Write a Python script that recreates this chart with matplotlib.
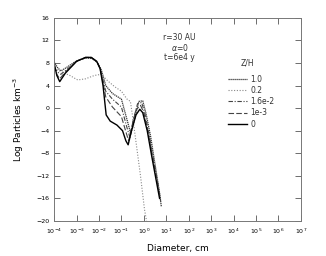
import matplotlib
matplotlib.use("Agg")
import matplotlib.pyplot as plt
import numpy as np

# log10(Diameter, cm) and Log particles km^-3 for each Z/H
x_0 = [-4.0, -3.88, -3.75, -3.5, -3.0, -2.6, -2.35, -2.1, -1.95, -1.82, -1.68, -1.5, -1.2, -0.95, -0.8, -0.7, -0.55, -0.35, -0.18, -0.05, 0.15, 0.35, 0.55, 0.7]
y_0 = [8.0, 5.8, 4.7, 6.2, 8.3, 9.0, 9.0, 8.3, 7.0, 4.0, -1.2, -2.3, -3.0, -4.0, -5.8, -6.5, -4.0, -1.2, -0.2, -0.8, -4.0, -8.5, -12.8, -16.0]

x_1e3 = [-4.0, -3.88, -3.75, -3.5, -3.0, -2.6, -2.35, -2.1, -1.95, -1.82, -1.7, -1.4, -1.0, -0.8, -0.68, -0.55, -0.35, -0.15, 0.0, 0.2, 0.4, 0.6, 0.72]
y_1e3 = [7.6, 6.0, 5.2, 6.4, 8.3, 9.0, 9.0, 8.3, 7.0, 4.5, 2.0, 0.2, -1.5, -4.2, -5.8, -3.5, -0.3, 0.5, -0.8, -4.5, -9.0, -13.0, -16.0]

x_16e2 = [-4.0, -3.85, -3.7, -3.45, -3.0, -2.6, -2.35, -2.1, -1.95, -1.82, -1.7, -1.4, -1.0, -0.75, -0.62, -0.48, -0.28, -0.1, 0.05, 0.25, 0.45, 0.65, 0.75]
y_16e2 = [7.2, 6.4, 6.0, 6.8, 8.3, 8.9, 9.0, 8.3, 7.0, 5.0, 3.0, 1.6, 0.2, -3.5, -5.2, -2.2, 0.8, 1.0, -1.0, -5.0, -9.5, -14.0, -16.5]

x_1 = [-4.0, -3.85, -3.7, -3.45, -3.0, -2.6, -2.3, -2.05, -1.9, -1.8, -1.7, -1.4, -1.0, -0.72, -0.58, -0.42, -0.22, -0.05, 0.1, 0.3, 0.5, 0.7, 0.78]
y_1 = [8.2, 7.2, 6.6, 7.2, 8.4, 8.9, 8.8, 8.0, 6.8, 5.5, 4.0, 2.6, 1.6, -2.5, -4.6, -2.0, 1.2, 1.3, -1.0, -5.0, -10.0, -15.0, -17.5]

x_02 = [-4.0, -3.7, -3.3, -2.95, -2.6, -2.2, -1.9, -1.6, -1.3, -1.0, -0.75, -0.6, -0.5, -0.35, -0.15, 0.03, 0.12]
y_02 = [7.0, 6.5, 5.8, 5.0, 5.2, 5.8, 6.0, 4.8, 3.8, 3.0, 1.6, 1.2, -1.5, -6.0, -12.0, -18.0, -20.0]

legend_labels = ["1.0", "0.2", "1.6e-2", "1e-3", "0"]
x_ticks = list(range(-4, 8))
y_ticks = list(range(-20, 17, 4))

plt.rcParams['font.family'] = ['DejaVu Sans']

fig = plt.figure(figsize=(3.26, 2.56), dpi=100)
ax = fig.add_axes([0.166, 0.137, 0.757, 0.793])

def D(lx):
    return 10.0 ** np.array(lx)

ax.plot(D(x_1), y_1, color="#333333", lw=0.9, ls=(0, (1, 0.6)), label=legend_labels[0])
ax.plot(D(x_02), y_02, color="#888888", lw=0.8, ls=(0, (1, 1.5)), label=legend_labels[1])
ax.plot(D(x_16e2), y_16e2, color="#444444", lw=0.8, ls=(0, (4, 1.5, 1, 1.5)), label=legend_labels[2])
ax.plot(D(x_1e3), y_1e3, color="#444444", lw=0.8, ls=(0, (5, 2)), label=legend_labels[3])
ax.plot(D(x_0), y_0, color="black", lw=1.0, ls="-", label=legend_labels[4])

ax.set_xscale("log")
ax.set_xlim(1e-4, 1e7)
ax.set_ylim(-20, 16)
ax.set_xticks([10.0 ** k for k in x_ticks])
ax.set_xticklabels([r"$10^{%d}$" % k for k in x_ticks])
ax.xaxis.set_minor_locator(matplotlib.ticker.NullLocator())
ax.set_yticks(y_ticks)
ax.tick_params(direction="in", length=4, width=0.6, labelsize=4.5, top=True, right=True, color="#555555")
ax.tick_params(axis="x", pad=4)
for s in ax.spines.values():
    s.set_linewidth(0.7)
    s.set_color("#777777")

ax.set_xlabel("Diameter, cm", fontsize=6.5, labelpad=6)
ax.set_ylabel(r"Log Particles km$^{-3}$", fontsize=6.5, labelpad=7)

ax.text(0.44, 0.905, "r=30 AU", transform=ax.transAxes, fontsize=5.5, ha="left", va="center", color="#333333")
ax.text(0.475, 0.853, r"$\alpha$=0", transform=ax.transAxes, fontsize=5.5, ha="left", va="center", color="#333333")
ax.text(0.445, 0.803, "t=6e4 y", transform=ax.transAxes, fontsize=5.5, ha="left", va="center", color="#333333")
ax.text(0.755, 0.78, "Z/H", transform=ax.transAxes, fontsize=5.5, ha="left", va="center", color="#333333")

leg = ax.legend(loc="upper left", bbox_to_anchor=(0.69, 0.74), frameon=False, fontsize=5.5,
                handlelength=2.4, handletextpad=0.5, labelspacing=0.3, borderpad=0)
for t in leg.get_texts():
    t.set_color("#333333")

fig.savefig("out.png", dpi=100)
